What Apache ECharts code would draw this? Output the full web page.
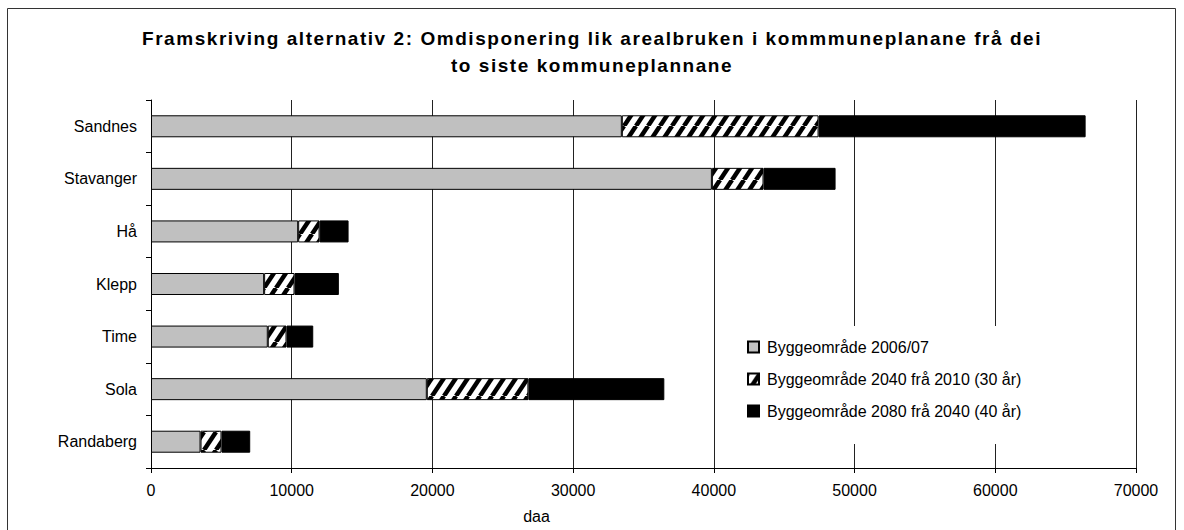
<!DOCTYPE html>
<html>
<head>
<meta charset="utf-8">
<script src="https://cdn.jsdelivr.net/npm/echarts@6/dist/echarts.min.js"></script>
<style>
  html, body { margin: 0; padding: 0; background: #fff; }
  #chart { width: 1184px; height: 530px; }
  /* Excel-tittelen har luftig teiknavstand */
  #chart svg text[style*="bold"] { letter-spacing: 1.55px; }
</style>
</head>
<body>
<div id="chart"></div>
<script>
// kommunar, ovanfrå og ned
var kommunar = ['Sandnes', 'Stavanger', 'Hå', 'Klepp', 'Time', 'Sola', 'Randaberg'];
// daa per segment (stabla)
var bygg2006 = [33460, 39860, 10460, 8040, 8300, 19600, 3520];
var bygg2040 = [13980, 3670, 1520, 2160, 1330, 7220, 1490];
var bygg2080 = [18980, 5120, 2060, 3150, 1900, 9660, 2040];
var seriesNames = [
  'Byggeområde 2006/07',
  'Byggeområde 2040 frå 2010 (30 år)',
  'Byggeområde 2080 frå 2040 (40 år)'
];
var titleLines = [
  'Framskriving alternativ 2: Omdisponering lik arealbruken i kommmuneplanane frå dei',
  'to siste kommuneplannane'
];
var xTicks = { min: 0, max: 70000, interval: 10000 };

// skravur-mønster for 2040-segmentet
function makeHatch() {
  var w = 12, h = 18;
  var c = document.createElement('canvas');
  c.width = w; c.height = h;
  var ctx = c.getContext('2d');
  ctx.fillStyle = '#fff';
  ctx.fillRect(0, 0, w, h);
  ctx.strokeStyle = '#000';
  ctx.lineWidth = 4.5;
  [-w, 0, w].forEach(function (dx) {
    ctx.beginPath();
    ctx.moveTo(dx, h);
    ctx.lineTo(dx + w, 0);
    ctx.stroke();
  });
  return c;
}

var chart = echarts.init(document.getElementById('chart'), null, { renderer: 'svg' });
var font = 'Arial, "Liberation Sans", sans-serif';
var barW = 22;

function barSeries(name, data, color) {
  return {
    name: name,
    type: 'bar',
    stack: 'sum',
    barWidth: barW,
    data: data,
    itemStyle: { color: color, borderColor: '#000', borderWidth: 1 },
    emphasis: { disabled: true }
  };
}

var titleStyle = { fontFamily: font, fontSize: 19, fontWeight: 'bold', color: '#000' };

chart.setOption({
  backgroundColor: '#fff',
  animation: false,
  title: [
    { text: titleLines[0], left: 'center', top: 29, padding: 0, textStyle: titleStyle },
    { text: titleLines[1], left: 'center', top: 56, padding: 0, textStyle: titleStyle }
  ],
  graphic: [{
    type: 'rect',
    shape: { x: 7.5, y: 8.5, width: 1168, height: 540 },
    style: { fill: 'none', stroke: '#333', lineWidth: 1 },
    silent: true
  }],
  legend: {
    orient: 'vertical',
    left: 735,
    top: 326,
    padding: [12, 14, 24, 12],
    backgroundColor: '#fff',
    icon: 'rect',
    itemWidth: 11,
    itemHeight: 11,
    itemGap: 14,
    textStyle: { fontFamily: font, fontSize: 16, color: '#000', lineHeight: 18, padding: [0, 0, 0, 3] },
    data: seriesNames
  },
  grid: { left: 151, right: 48, top: 100, bottom: 62, containLabel: false },
  xAxis: {
    type: 'value',
    min: xTicks.min,
    max: xTicks.max,
    interval: xTicks.interval,
    name: 'daa',
    nameLocation: 'middle',
    nameGap: 40,
    nameTextStyle: { fontFamily: font, fontSize: 16, color: '#000', padding: [0, 214, 0, 0] },
    axisLine: { show: true, lineStyle: { color: '#000', width: 1 } },
    axisTick: { show: true, length: 5, lineStyle: { color: '#000' } },
    axisLabel: {
      fontFamily: font, fontSize: 16, color: '#000', margin: 14,
      formatter: function (v) { return String(v); }
    },
    splitLine: { show: true, lineStyle: { color: '#222', width: 1 } }
  },
  yAxis: {
    type: 'category',
    inverse: true,
    data: kommunar,
    axisLine: { show: true, lineStyle: { color: '#000', width: 1 } },
    axisTick: { show: true, length: 5, lineStyle: { color: '#000' } },
    axisLabel: { fontFamily: font, fontSize: 16, color: '#000', margin: 14 },
    splitLine: { show: false }
  },
  series: [
    barSeries(seriesNames[0], bygg2006, '#c0c0c0'),
    barSeries(seriesNames[1], bygg2040, { image: makeHatch(), repeat: 'repeat' }),
    barSeries(seriesNames[2], bygg2080, '#000')
  ]
});
</script>
</body>
</html>
